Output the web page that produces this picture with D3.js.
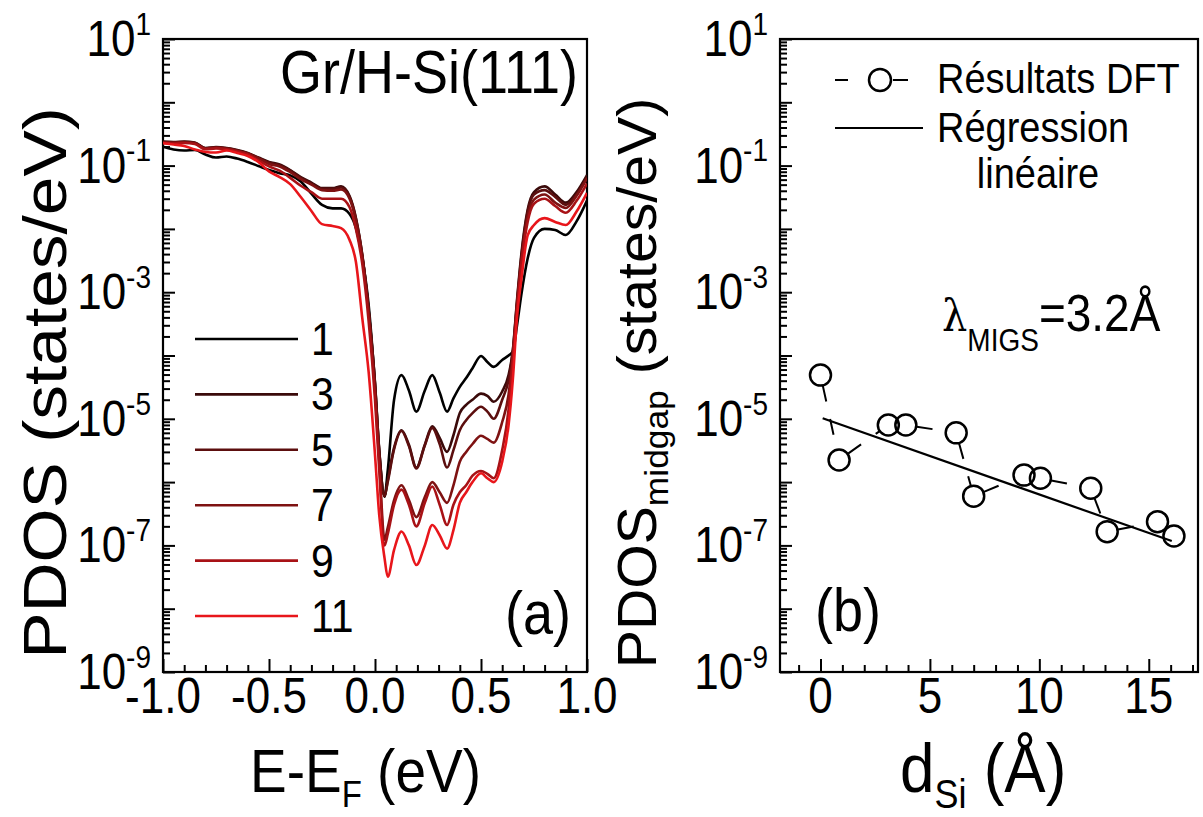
<!DOCTYPE html>
<html><head><meta charset="utf-8">
<script src="https://cdn.jsdelivr.net/npm/d3@7"></script>
<style>
body{margin:0;background:#fff}
svg{display:block}
text{font-family:"Liberation Sans",Arial,Helvetica,sans-serif;fill:#000}
</style>
</head><body>
<svg id="c" width="1203" height="817"></svg>
<script>
// ---------- data: panel (a) ----------
const energy = [-1.00,-0.95,-0.90,-0.85,-0.80,-0.75,-0.70,-0.65,-0.60,-0.55,-0.50,-0.45,-0.40,-0.35,-0.30,-0.25,-0.20,
  -0.16,-0.12,-0.09,-0.06,-0.03,0.00,0.02,0.045,0.06,0.09,
  0.125,0.16,0.195,0.235,0.27,0.305,0.34,0.37,
  0.40,0.43,0.46,0.50,0.53,0.56,0.60,0.63,0.65,0.67,0.69,0.72,0.75,
  0.80,0.85,0.90,0.95,1.00];
const pdos1 = [0.199,0.180,0.173,0.176,0.150,0.134,0.139,0.129,0.114,0.0986,0.085,0.076,0.070,0.056,0.036,0.0239,0.0211,
  0.0211,0.0172,0.0103,0.0035,6.3e-4,3.4e-5,3.0e-6,5.9e-7,1.5e-6,2.0e-5,
  4.9e-5,2.8e-5,1.3e-5,2.8e-5,4.9e-5,2.6e-5,1.3e-5,2.1e-5,
  3.2e-5,4.4e-5,6.3e-5,9.8e-5,7.9e-5,6.6e-5,8.5e-5,1.0e-4,1.15e-4,3.0e-4,9.0e-4,3.4e-3,7.2e-3,
  0.010,0.0096,0.0080,0.013,0.028];
const pdos3 = [0.239,0.236,0.239,0.232,0.19,0.197,0.19,0.176,0.158,0.134,0.114,0.104,0.085,0.066,0.054,0.044,0.044,
  0.047,0.033,0.0149,0.0039,5.2e-4,3.7e-5,3.2e-6,6.0e-7,1.07e-6,3.5e-6,
  6.6e-6,3.9e-6,1.7e-6,3.9e-6,7.6e-6,5.0e-6,3.0e-6,5.5e-6,
  1.23e-5,1.66e-5,2.0e-5,2.5e-5,2.3e-5,1.86e-5,2.7e-5,4.9e-5,1.2e-4,7.6e-4,3.9e-3,0.020,0.038,
  0.047,0.035,0.026,0.038,0.071];
const pdos5 = [0.236,0.232,0.235,0.228,0.187,0.193,0.187,0.173,0.155,0.131,0.112,0.101,0.083,0.064,0.052,0.043,0.043,
  0.045,0.032,0.0145,0.0038,5.0e-4,3.6e-5,3.1e-6,6.0e-7,1.0e-6,3.3e-6,
  6.4e-6,3.7e-6,1.65e-6,3.8e-6,7.2e-6,4.0e-6,1.7e-6,3.2e-6,
  6.6e-6,9.5e-6,1.23e-5,1.55e-5,1.3e-5,1.0e-5,2.0e-5,4.1e-5,1.15e-4,7.0e-4,3.5e-3,0.0186,0.035,
  0.041,0.032,0.024,0.035,0.066];
const pdos7 = [0.234,0.231,0.234,0.227,0.186,0.193,0.186,0.172,0.155,0.131,0.106,0.097,0.079,0.061,0.050,0.041,0.040,
  0.042,0.030,0.0135,0.0037,5.0e-4,2.8e-5,2.2e-6,1.23e-7,1.9e-7,5.2e-7,
  8.9e-7,5.2e-7,2.8e-7,5.8e-7,1.0e-6,6.9e-7,4.7e-7,8.9e-7,
  2.1e-6,3.0e-6,4.0e-6,5.4e-6,4.8e-6,4.2e-6,8.9e-6,2.4e-5,1.0e-4,6.3e-4,3.0e-3,0.0155,0.029,
  0.035,0.026,0.0214,0.033,0.063];
const pdos9 = [0.227,0.224,0.227,0.220,0.181,0.187,0.181,0.167,0.150,0.121,0.097,0.083,0.064,0.048,0.038,0.030,0.030,
  0.030,0.022,0.010,0.0028,3.5e-4,2.0e-5,1.55e-6,1.0e-7,1.5e-7,4.4e-7,
  7.6e-7,4.4e-7,2.0e-7,4.7e-7,8.5e-7,4.4e-7,2.1e-7,4.4e-7,
  6.9e-7,8.9e-7,1.26e-6,1.5e-6,1.35e-6,1.15e-6,3.2e-6,1.4e-5,8.5e-5,5.6e-4,2.7e-3,0.0129,0.025,
  0.030,0.023,0.018,0.0275,0.052];
const pdos11 = [0.225,0.215,0.204,0.18,0.164,0.161,0.173,0.158,0.142,0.114,0.081,0.066,0.051,0.0319,0.0192,0.0119,0.0111,
  0.0103,0.0067,0.0030,3.9e-4,5.5e-5,2.7e-6,3.0e-7,6.3e-8,3.2e-8,8.5e-8,
  1.66e-7,1.0e-7,4.9e-8,1.0e-7,2.1e-7,1.45e-7,8.9e-8,1.74e-7,
  4.7e-7,6.9e-7,1.0e-6,1.38e-6,1.15e-6,1.0e-6,2.1e-6,7.9e-6,4.1e-5,4.0e-4,1.55e-3,7.9e-3,0.0115,
  0.0148,0.0129,0.0115,0.0186,0.037];
const seriesNames = ["1","3","5","7","9","11"];
const seriesColors = ["#000000","#3a0a0a","#5c0e0e","#7e1212","#a81216","#e8161b"];

// ---------- data: panel (b) ----------
const dSi = [0.0,0.85,3.1,3.9,6.2,7.0,9.3,10.05,12.35,13.1,15.4,16.15];
const pdosMidgap = [4.9e-5,2.23e-6,8.0e-6,8.0e-6,6.0e-6,6.0e-7,1.29e-6,1.15e-6,8.0e-7,1.65e-7,2.37e-7,1.41e-7];
const fitX = [0.1,16.05];
const fitY = [1.02e-5,1.17e-7];

// ---------- ticks ----------
const yTickExp = [1,-1,-3,-5,-7,-9];
const xTicksA = [-1.0,-0.5,0.0,0.5,1.0];
const xTicksB = [0,5,10,15];

// ---------- layout ----------
const SY = 1.12; // vertical stretch of the lettering
const svg = d3.select("#c");
const T = 39, B = 672;
const PA = {l:163, r:587}, PB = {l:780, r:1198};
const xA = d3.scaleLinear().domain([-1,1]).range([PA.l,PA.r]);
const xB = d3.scaleLinear().domain([-1.85,17.25]).range([PB.l,PB.r]);
const yS = d3.scaleLog().domain([1e-9,1e1]).range([B,T]);

function txt(parent, x, y, size, anchor, sy){
  return parent.append("text").attr("transform",`translate(${x},${y}) scale(1,${sy||SY})`)
    .attr("text-anchor",anchor||"start").attr("font-size",size);
}

const majorsY = d3.range(-9,2).map(e=>Math.pow(10,e));
const minorsY = [];
d3.range(-9,1).forEach(e=>{ for(let m=2;m<=9;m++) minorsY.push(m*Math.pow(10,e)); });

function styleAxis(g){ g.select(".domain").remove(); g.selectAll("line").attr("stroke","#000").attr("stroke-width",2); }

function drawPanel(P, xs, majorsX, minorsX, xLabels, xfmt){
  const g = svg.append("g");
  g.append("g").attr("transform",`translate(${P.l},0)`).call(d3.axisLeft(yS).tickValues(majorsY).tickSize(-12).tickFormat("")).call(styleAxis);
  g.append("g").attr("transform",`translate(${P.l},0)`).call(d3.axisLeft(yS).tickValues(minorsY).tickSize(-7).tickFormat("")).call(styleAxis);
  g.append("g").attr("transform",`translate(0,${B})`).call(d3.axisBottom(xs).tickValues(majorsX).tickSize(-13).tickFormat("")).call(styleAxis);
  g.append("g").attr("transform",`translate(0,${B})`).call(d3.axisBottom(xs).tickValues(minorsX).tickSize(-7).tickFormat("")).call(styleAxis);
  g.append("rect").attr("x",P.l).attr("y",T).attr("width",P.r-P.l).attr("height",B-T)
    .attr("fill","none").attr("stroke","#000").attr("stroke-width",2.2);
  yTickExp.forEach(e=>{
    const t = txt(g, P.l-12, yS(Math.pow(10,e))+17, 44, "end");
    t.append("tspan").text("10");
    t.append("tspan").attr("font-size",28).attr("dy",-19).text(String(e));
  });
  xLabels.forEach(v=>{ txt(g, xs(v), 713, 44, "middle").text(xfmt(v)); });
  return g;
}

const minorsXA = d3.range(-10,11).filter(i=>i%5!==0).map(i=>i/10);
const minorsXB = d3.range(-1,18).filter(i=>i%5!==0);
drawPanel(PA, xA, xTicksA, minorsXA, xTicksA, v=>v.toFixed(1));
drawPanel(PB, xB, xTicksB, minorsXB, xTicksB, v=>String(v));

// ---------- panel (a) curves ----------
svg.append("clipPath").attr("id","clipA").append("rect").attr("x",PA.l).attr("y",T).attr("width",PA.r-PA.l).attr("height",B-T);
const allSeries = [pdos1,pdos3,pdos5,pdos7,pdos9,pdos11];
const lineA = d3.line().x((d,i)=>xA(energy[i])).y(d=>yS(d)).curve(d3.curveMonotoneX);
const gc = svg.append("g").attr("clip-path","url(#clipA)");
allSeries.forEach((s,k)=>{
  gc.append("path").attr("d",lineA(s)).attr("fill","none").attr("stroke",seriesColors[k]).attr("stroke-width",2.6).attr("stroke-linejoin","round");
});
seriesNames.forEach((n,k)=>{
  const y = 339 + k*55.4;
  svg.append("line").attr("x1",195).attr("x2",298).attr("y1",y).attr("y2",y).attr("stroke",seriesColors[k]).attr("stroke-width",2.6);
  txt(svg, 311, y+16, 41).text(n);
});
txt(svg, 578, 93, 54, "end").text("Gr/H-Si(111)");
txt(svg, 571, 634, 54, "end").text("(a)");

// ---------- panel (b) ----------
const ptsB = dSi.map((d,i)=>[xB(d), yS(pdosMidgap[i])]);
const R = 10.5, GAP = 11;
const gb = svg.append("g");
for(let i=0;i<ptsB.length-1;i++){
  const [x0,y0]=ptsB[i], [x1,y1]=ptsB[i+1];
  const L = Math.hypot(x1-x0,y1-y0);
  if(L <= 2*GAP) continue;
  const ux=(x1-x0)/L, uy=(y1-y0)/L;
  gb.append("line").attr("x1",x0+ux*GAP).attr("y1",y0+uy*GAP).attr("x2",x1-ux*GAP).attr("y2",y1-uy*GAP)
    .attr("stroke","#000").attr("stroke-width",2).attr("stroke-dasharray","16,18");
}
gb.append("path").attr("d",d3.line().x((d,i)=>xB(fitX[i])).y(d=>yS(d))(fitY))
  .attr("fill","none").attr("stroke","#000").attr("stroke-width",2.2);
gb.selectAll("circle").data(ptsB).join("circle").attr("cx",d=>d[0]).attr("cy",d=>d[1]).attr("r",R)
  .attr("fill","none").attr("stroke","#000").attr("stroke-width",2.5);

svg.append("line").attr("x1",835).attr("x2",848).attr("y1",80).attr("y2",80).attr("stroke","#000").attr("stroke-width",2);
svg.append("line").attr("x1",893).attr("x2",908).attr("y1",80).attr("y2",80).attr("stroke","#000").attr("stroke-width",2);
svg.append("circle").attr("cx",880).attr("cy",80).attr("r",11).attr("fill","none").attr("stroke","#000").attr("stroke-width",2.5);
txt(svg, 937, 93, 38).text("Résultats DFT");
svg.append("line").attr("x1",835).attr("x2",923).attr("y1",128).attr("y2",128).attr("stroke","#000").attr("stroke-width",2.2);
txt(svg, 937, 142, 38).text("Régression");
txt(svg, 1038, 188, 38, "middle").text("linéaire");

const lam = txt(svg, 942, 331, 46);
lam.append("tspan").style("font-family","'DejaVu Serif','Liberation Serif',serif").attr("font-size",40).text("λ");
lam.append("tspan").attr("font-size",28).attr("dy",18).text("MIGS");
lam.append("tspan").attr("dy",-18).text("=3.2Å");
txt(svg, 815, 631, 54).text("(b)");

// ---------- axis titles ----------
svg.append("text").attr("transform",`translate(66,383) scale(1,${SY}) rotate(-90)`).attr("text-anchor","middle").attr("font-size",62).text("PDOS (states/eV)");
const ty = svg.append("text").attr("transform","translate(656,383) scale(1,1.04) rotate(-90)").attr("text-anchor","middle").attr("font-size",55);
ty.append("tspan").text("PDOS");
ty.append("tspan").attr("font-size",34).attr("dy",12).text("midgap");
ty.append("tspan").attr("dy",-12).text(" (states/eV)");

const tx = txt(svg, 250, 792, 55);
tx.append("tspan").text("E-E");
tx.append("tspan").attr("font-size",33).attr("dy",13).text("F");
tx.append("tspan").attr("dy",-13).text(" (eV)");
const td = txt(svg, 900, 792, 62);
td.append("tspan").text("d");
td.append("tspan").attr("font-size",36).attr("dy",14).text("Si");
td.append("tspan").attr("dy",-14).text(" (Å)");
</script>
</body></html>
